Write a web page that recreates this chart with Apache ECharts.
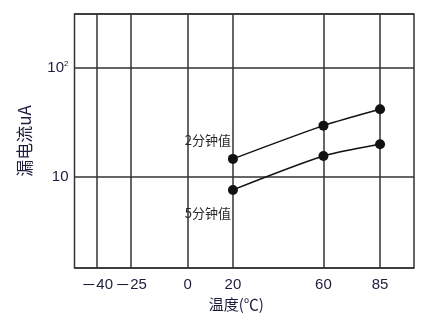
<!DOCTYPE html>
<html><head><meta charset="utf-8">
<script src="https://cdn.jsdelivr.net/npm/echarts@6/dist/echarts.min.js"></script>
<style>html,body{margin:0;padding:0;background:#fff}#c{width:441px;height:320px}</style>
</head><body><div id="c"></div>
<script>
const temps = [20, 60, 85];
const twoMin = [14.6, 29.4, 41.5];
const fiveMin = [7.6, 15.5, 19.9];
const xTicks = [-40, -25, 0, 20, 60, 85];
const xTickLabels = ['－40', '－25', '0', '20', '60', '85'];
const seriesNames = ['2分钟值', '5分钟值'];

const chart = echarts.init(document.getElementById('c'));
const navy = '#1c1c3c';
const gridColor = '#333';
function mkSeries(name, vals, offY) {
  return {
    type: 'line', name: name, smooth: 0.25,
    data: temps.map((t, i) => [t, vals[i]]),
    symbol: 'circle', symbolSize: 10,
    itemStyle: {color: '#111'},
    lineStyle: {color: '#111', width: 1.5},
    label: {
      show: true,
      formatter: p => p.dataIndex === 0 ? name : '',
      position: 'left', distance: 5, offset: [8, offY],
      fontFamily: 'Noto Sans CJK SC, sans-serif',
      fontSize: 13, color: '#2a2a2a'
    },
    z: 5
  };
}
chart.setOption({
  animation: false,
  grid: {left: 74.5, right: 27, top: 14, bottom: 52, show: true, borderColor: gridColor, borderWidth: 1.5},
  xAxis: {
    type: 'value', min: -50, max: 100,
    name: '温度(℃)', nameLocation: 'middle', nameGap: 28,
    nameTextStyle: {color: navy, fontSize: 15, fontFamily: 'Noto Sans CJK SC', padding: [0, 16, 0, 0]},
    axisLine: {show: false}, axisTick: {show: false},
    splitLine: {show: false},
    axisLabel: {
      customValues: xTicks,
      formatter: v => {
        const s = xTickLabels[xTicks.indexOf(v)] || '';
        return s.charAt(0) === '－' ? '{d|－}' + s.slice(1) : s;
      },
      rich: {d: {fontFamily: 'Noto Sans CJK SC', fontSize: 15, color: navy}},
      color: navy, fontSize: 15, margin: 9, fontFamily: 'Liberation Sans'
    }
  },
  yAxis: {
    type: 'log', logBase: 10, min: 1.47, max: 308,
    name: '漏电流uA', nameLocation: 'middle', nameGap: 41,
    nameTextStyle: {color: navy, fontSize: 17, fontFamily: 'Noto Sans CJK SC'},
    axisLine: {show: false}, axisTick: {show: false},
    axisLabel: {
      color: navy, fontSize: 15, margin: 6, fontFamily: 'Liberation Sans',
      formatter: v => Math.abs(v - 10) < 1e-6 ? '10' : (Math.abs(v - 100) < 1e-6 ? '10{s|2}' : ''),
      rich: {s: {fontSize: 8, verticalAlign: 'top', color: navy, padding: [0, 0, 7, 0], fontFamily: 'Liberation Sans'}}
    },
    splitLine: {show: true, lineStyle: {color: gridColor, width: 1.5}}
  },
  series: [
    {
      type: 'line', data: [], z: 1, silent: true,
      markLine: {
        silent: true, symbol: 'none', animation: false,
        label: {show: false},
        lineStyle: {color: gridColor, width: 1.5, type: 'solid'},
        data: xTicks.map(v => ({xAxis: v}))
      }
    },
    mkSeries(seriesNames[0], twoMin, -19),
    mkSeries(seriesNames[1], fiveMin, 23)
  ]
});
</script></body></html>
